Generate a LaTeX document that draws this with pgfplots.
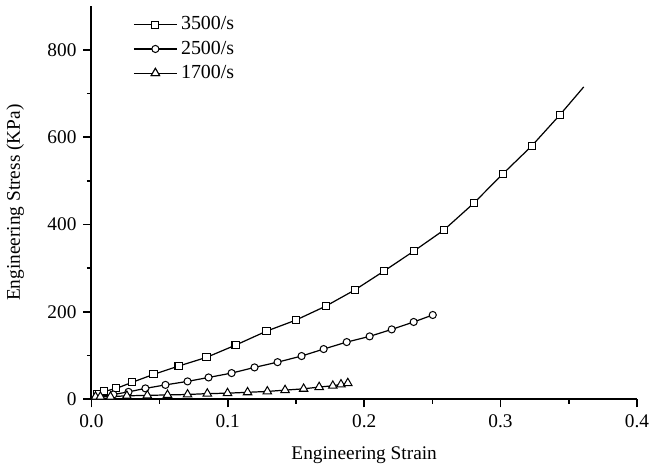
\documentclass[border=0pt]{standalone}
\usepackage{fontspec}
\setmainfont{Liberation Serif}
\usepackage{pgfplots}
\pgfplotsset{compat=1.18}

\begin{document}
\fontsize{9.5}{11}\selectfont
\begin{tikzpicture}
\begin{axis}[
  scale only axis,
  width=268.3pt,height=193.4pt,
  xmin=0,xmax=0.4,ymin=0,ymax=900,
  axis x line*=bottom,axis y line*=left,
  axis line style={line width=0.9pt},
  xtick={0,0.1,...,0.4},minor xtick={0.05,0.15,0.25,0.35},
  ytick={0,200,...,800},minor ytick={100,300,500,700},
  tick align=outside,
  major tick length=4pt,minor tick length=2.2pt,
  every tick/.style={black,line width=0.8pt},
  xticklabel style={inner xsep=0pt,/pgf/number format/.cd,fixed,fixed zerofill,precision=1,assume math mode=true},
  yticklabel style={/pgf/number format/assume math mode=true},
  scaled x ticks=false,
  tick label style={font=\fontsize{9.5}{11}\selectfont},
  label style={font=\fontsize{9.5}{11}\selectfont},
  xlabel={Engineering Strain},
  xlabel style={yshift=-3pt},
  ylabel={Engineering Stress (KPa)},
  ylabel style={yshift=5pt},
  legend style={draw=none,fill=none,at={(0.065,0.995)},anchor=north west,
    font=\fontsize{9.8}{11}\selectfont,row sep=0pt,
    nodes={inner xsep=1.8pt}},
  legend cell align=left,
  legend image code/.code={
    \draw[mark=none] (0cm,0cm)--(0.74cm,0cm);
    \draw plot coordinates {(0.37cm,0cm)(0.37cm,0cm)};},
  every axis plot/.append style={black,line width=0.6pt,mark size=1.75pt,
    mark options={fill=white,solid,line width=0.5pt}},
]
\addplot[mark=square*,mark indices={2,3,4,5,6,7,8,9,10,11,12,13,14,15,16,17,18,19,20}] coordinates {
(0,3) (0.0044,11) (0.0095,18) (0.0183,25) (0.030,39) (0.0455,57) (0.0639,76)
(0.0844,96) (0.1057,124) (0.1284,156) (0.1497,181) (0.1717,213) (0.193,250)
(0.2143,293) (0.2363,339) (0.2583,387) (0.2804,449) (0.3017,516) (0.3229,580)
(0.3435,651) (0.361,715)
};
\addlegendentry{3500/s}
\addplot[mark=*,mark indices={2,3,4,5,6,7,8,9,10,11,12,13,14,15,16,17,18}] coordinates {
(0,0) (0.0161,11) (0.0272,17) (0.0396,25) (0.0543,33) (0.0705,41) (0.0859,50)
(0.1028,60) (0.1196,73) (0.1365,85) (0.1541,99) (0.1703,115) (0.1872,131)
(0.204,144) (0.2202,160) (0.2363,177) (0.2503,193)
};
\addlegendentry{2500/s}
\addplot[mark=triangle*,mark size=2.4pt] coordinates {
(0.003,6) (0.0066,6) (0.014,6) (0.026,8) (0.041,9) (0.0558,10) (0.0705,11)
(0.085,13) (0.0998,14) (0.1145,16) (0.129,18) (0.142,21) (0.1556,24)
(0.167,28) (0.177,31) (0.183,34) (0.188,37)
};
\addlegendentry{1700/s}
\end{axis}
\path ([yshift=3pt]current axis.north);
\end{tikzpicture}
\end{document}
